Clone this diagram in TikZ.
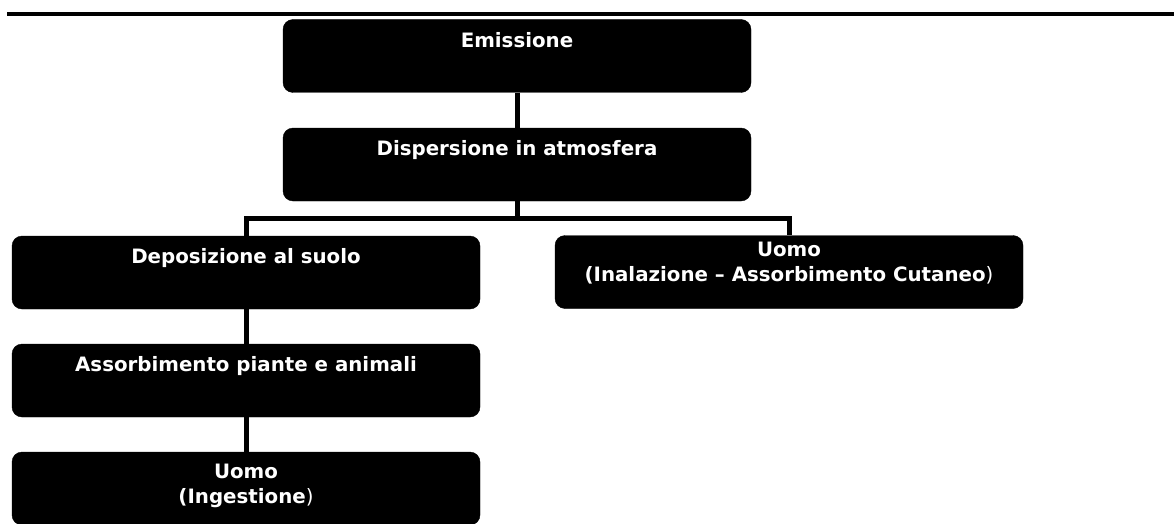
\documentclass[tikz,border=0pt]{standalone}
\usepackage{fontspec}
\setmainfont{DejaVu Sans}
\tikzset{
  box/.style={fill=black, draw=black, rounded corners=10pt, inner sep=0pt, text=white,
    font=\bfseries\fontsize{19.8}{25}\selectfont},
  conn/.style={draw=black, line width=5pt, line join=miter},
  rulebar/.style={draw=black, line width=4pt}
}
\newcommand{\boxtext}[2]{\parbox[c][73pt][t]{468pt}{\centering\rule{0pt}{#1}#2}}
\begin{document}
\begin{tikzpicture}[x=1pt,y=-1pt]
\useasboundingbox (0,0) rectangle (1174,524);
\draw[rulebar] (7,14) -- (1174,14);
\node[box] (E)   at (517,56)    {\boxtext{28pt}{Emissione}};
\node[box] (D)   at (517,164.5) {\boxtext{27pt}{Dispersione in atmosfera}};
\node[box] (Dep) at (246,272.5) {\boxtext{27pt}{Deposizione al suolo}};
\node[box] (UA)  at (789,272)   {\boxtext{21pt}{Uomo\\(Inalazione -- Assorbimento Cutaneo\mdseries)}};
\node[box] (Ass) at (246,380.5) {\boxtext{27pt}{Assorbimento piante e animali}};
\node[box] (UI)  at (246,488.5) {\boxtext{26pt}{Uomo\\(Ingestione\mdseries)}};
\coordinate (bar) at (517,218);
\draw[conn] (E.south) -- (D.north);
\draw[conn] (D.south) -- (bar);
\draw[conn] (Dep.north) |- (bar) -| (UA.north);
\draw[conn] (Dep.south) -- (Ass.north);
\draw[conn] (Ass.south) -- (UI.north);
\end{tikzpicture}
\end{document}
